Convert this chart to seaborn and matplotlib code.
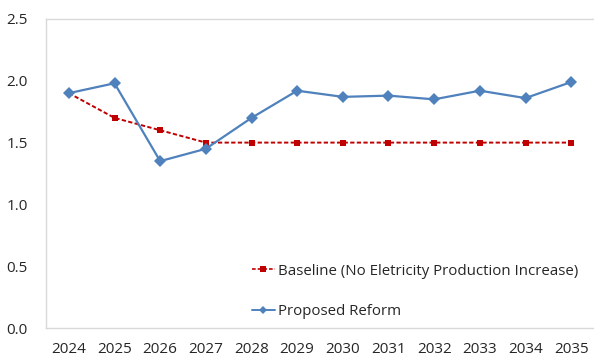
import matplotlib
matplotlib.use("Agg")
import matplotlib.pyplot as plt
import seaborn as sns
import pandas as pd
import numpy as np
from matplotlib.lines import Line2D

years = [2024, 2025, 2026, 2027, 2028, 2029, 2030, 2031, 2032, 2033, 2034, 2035]
baseline = [1.90, 1.70, 1.60, 1.50, 1.50, 1.50, 1.50, 1.50, 1.50, 1.50, 1.50, 1.50]
reform = [1.90, 1.98, 1.35, 1.45, 1.70, 1.92, 1.87, 1.88, 1.85, 1.92, 1.86, 1.99]
series_names = ["Baseline (No Eletricity Production Increase)", "Proposed Reform"]
y_ticks = [0.0, 0.5, 1.0, 1.5, 2.0, 2.5]

sns.set_theme(style="white")
plt.rcParams["font.family"] = ["Open Sans", "DejaVu Sans"]

RED = "#c00000"
BLUE = "#4f81bd"
GRID = "#d9d9d9"
TEXT = "#262626"

pos = np.arange(len(years))
df = pd.DataFrame({
    "pos": np.concatenate([pos, pos]),
    "value": baseline + reform,
    "series": [series_names[0]] * len(years) + [series_names[1]] * len(years),
})

fig = plt.figure(figsize=(5.94, 3.60), dpi=100)
ax = fig.add_axes([46 / 594, 32 / 360, 548 / 594, 309 / 360])

sns.lineplot(data=df, x="pos", y="value", hue="series", style="series",
             palette={series_names[0]: RED, series_names[1]: BLUE},
             dashes={series_names[0]: (2.2, 1.2), series_names[1]: ""},
             markers={series_names[0]: "s", series_names[1]: "D"},
             markeredgewidth=0, ax=ax, legend=False)
ax.lines[0].set_linewidth(1.4)
ax.lines[0].set_markersize(5.0)
ax.lines[0].set_zorder(2)
ax.lines[1].set_linewidth(1.6)
ax.lines[1].set_markersize(6.0)
ax.lines[1].set_zorder(3)

ax.set_xlim(-0.5, len(years) - 0.5)
ax.set_ylim(0, 2.5)
ax.set_yticks(y_ticks)
ax.set_yticklabels([f"{v:.1f}" for v in y_ticks])
ax.set_xticks(pos)
ax.set_xticklabels([str(y) for y in years])
ax.set_xticks(np.arange(0.5, len(years) - 0.5, 1.0), minor=True)
ax.set_xlabel("")
ax.set_ylabel("")

ax.tick_params(axis="x", which="major", length=0, pad=10, labelsize=11, labelcolor=TEXT)
ax.tick_params(axis="x", which="minor", length=5, direction="in", color=GRID, width=1)
ax.tick_params(axis="y", which="major", length=5, direction="in", color=GRID,
               pad=13, labelsize=11, labelcolor=TEXT)

for side in ["top", "left", "bottom"]:
    ax.spines[side].set_visible(True)
    ax.spines[side].set_color(GRID)
    ax.spines[side].set_linewidth(1.0)
ax.spines["right"].set_visible(False)

# legend, drawn without a frame
handles = [
    Line2D([0], [0], color=RED, lw=1.2, ls=(0, (2.2, 1.2)), marker="s",
           markersize=4.0, markeredgewidth=0),
    Line2D([0], [0], color=BLUE, lw=1.4, marker="D", markersize=4.5,
           markeredgewidth=0),
]
ax.legend(handles, series_names, loc="lower left",
          bbox_to_anchor=(192 / 548, -0.014), frameon=False,
          fontsize=10.8, handlelength=1.55, handletextpad=0.25,
          labelspacing=1.68, labelcolor=TEXT)

fig.savefig("out.png", dpi=100)
